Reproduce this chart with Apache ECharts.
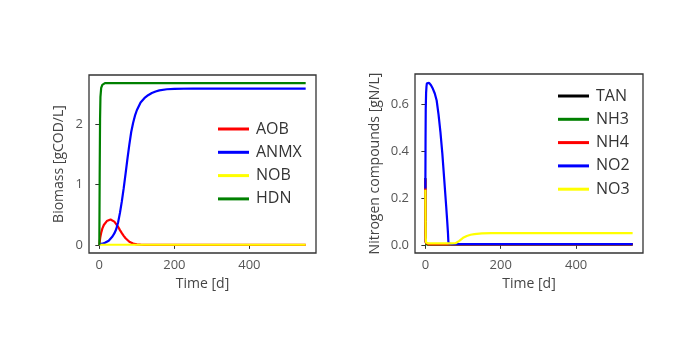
<!DOCTYPE html>
<html><head><meta charset="utf-8">
<script src="https://cdn.jsdelivr.net/npm/echarts@6/dist/echarts.min.js"></script>
<style>html,body{margin:0;padding:0;background:#fff}#c{width:700px;height:350px}</style>
</head><body><div id="c"></div>
<script>
// Left panel: biomass
const tBio = [0,1,2,3,5,8,12,15,20,25,30,35,40,45,50,55,60,65,70,75,80,85,90,95,100,110,120,130,140,150,160,180,200,250,300,400,550];
const AOB  = [0,0.05,0.1,0.14,0.2,0.27,0.33,0.36,0.395,0.415,0.42,0.41,0.385,0.345,0.3,0.245,0.195,0.15,0.11,0.078,0.053,0.035,0.022,0.014,0.009,0.004,0.002,0.001,0,0,0,0,0,0,0,0,0];
const ANMX = [0.01,0.01,0.01,0.012,0.015,0.02,0.028,0.035,0.05,0.07,0.1,0.14,0.19,0.26,0.37,0.53,0.72,0.94,1.18,1.43,1.66,1.87,2.02,2.14,2.23,2.36,2.43,2.48,2.515,2.54,2.56,2.578,2.585,2.59,2.59,2.59,2.59];
const NOB  = [0.003,0.003,0.003,0.003,0.003,0.003,0.003,0.003,0.003,0.003,0.003,0.003,0.003,0.003,0.003,0.003,0.003,0.003,0.003,0.003,0.003,0.003,0.003,0.003,0.003,0.003,0.003,0.003,0.003,0.003,0.003,0.003,0.003,0.003,0.003,0.003,0.003];
const HDN  = [0,1.2,2.1,2.45,2.6,2.65,2.67,2.68,2.68,2.68,2.68,2.68,2.68,2.68,2.68,2.68,2.68,2.68,2.68,2.68,2.68,2.68,2.68,2.68,2.68,2.68,2.68,2.68,2.68,2.68,2.68,2.68,2.68,2.68,2.68,2.68,2.68];
// Right panel: nitrogen compounds
const tN  = [0,0.5,1,2,3,4,6,8,10,15,20,25,30,35,40,45,50,55,58,60,61,62,65,70,80,85,90,95,100,110,120,130,150,175,200,300,400,550];
const TAN = [0.285,0.055,0.012,0.005,0.004,0.004,0.003,0.003,0.003,0.003,0.003,0.003,0.003,0.003,0.003,0.003,0.003,0.003,0.003,0.003,0.003,0.003,0.003,0.003,0.003,0.003,0.003,0.003,0.003,0.003,0.003,0.003,0.003,0.003,0.003,0.003,0.003,0.003];
const NH3 = [0.005,0.003,0.002,0.001,0.001,0.001,0.001,0.001,0.001,0.001,0.001,0.001,0.001,0.001,0.001,0.001,0.001,0.001,0.001,0.001,0.001,0.001,0.001,0.001,0.001,0.001,0.001,0.001,0.001,0.001,0.001,0.001,0.001,0.001,0.001,0.001,0.001,0.001];
const NH4 = [0.28,0.05,0.01,0.003,0.002,0.002,0.002,0.002,0.002,0.002,0.002,0.002,0.002,0.002,0.002,0.002,0.002,0.002,0.002,0.002,0.002,0.002,0.002,0.002,0.002,0.002,0.002,0.002,0.002,0.002,0.002,0.002,0.002,0.002,0.002,0.002,0.002,0.002];
const NO2 = [0.24,0.45,0.58,0.65,0.675,0.688,0.693,0.693,0.69,0.68,0.665,0.645,0.615,0.555,0.48,0.39,0.28,0.17,0.1,0.05,0.015,0.006,0.004,0.003,0.003,0.003,0.003,0.003,0.003,0.003,0.003,0.003,0.003,0.003,0.003,0.003,0.003,0.003];
const NO3 = [0.235,0.1,0.03,0.01,0.006,0.006,0.006,0.006,0.006,0.006,0.006,0.006,0.006,0.006,0.006,0.006,0.006,0.006,0.006,0.006,0.006,0.006,0.006,0.006,0.007,0.011,0.017,0.024,0.03,0.038,0.043,0.046,0.049,0.05,0.05,0.05,0.05,0.05];
const xTicks = [0,200,400];
const yTicksBio = [0,1,2];
const yTicksN = [0,0.2,0.4,0.6];

const FONT = 'Open Sans';
const pair = (t, v) => t.map((x, i) => [x, v[i]]);

function xAxis(gi){
  return {type:'value', gridIndex:gi, min:-27.5, max:577.5,
    name:'Time [d]', nameLocation:'middle', nameGap:22,
    nameTextStyle:{fontFamily:FONT,fontSize:14,color:'#444'},
    axisLine:{show:false}, splitLine:{show:false},
    axisTick:{show:true, length:4, lineStyle:{color:'#333'}, customValues:xTicks},
    axisLabel:{fontFamily:FONT,fontSize:13,color:'#555',margin:6,customValues:xTicks}};
}
function yAxis(gi, min, max, ticks, name, gap, fmt){
  return {type:'value', gridIndex:gi, min:min, max:max,
    name:name, nameLocation:'middle', nameGap:gap,
    nameTextStyle:{fontFamily:FONT,fontSize:14,color:'#444'},
    axisLine:{show:false}, splitLine:{show:false},
    axisTick:{show:true, length:4, lineStyle:{color:'#333'}, customValues:ticks},
    axisLabel:{fontFamily:FONT,fontSize:13,color:'#555',margin:6,customValues:ticks,formatter:fmt}};
}
function line(name, color, gi, t, v){
  return {name:name, type:'line', xAxisIndex:gi, yAxisIndex:gi, data:pair(t,v),
    showSymbol:false, color:color, lineStyle:{width:2.2,color:color}, animation:false, silent:true};
}
const legendBase = {orient:'vertical', icon:'rect', itemWidth:31, itemHeight:3, itemGap:5.3,
  textStyle:{fontFamily:FONT,fontSize:16,color:'#333',lineHeight:18,padding:[0,0,0,2]}, selectedMode:false};

const chart = echarts.init(document.getElementById('c'), null, {renderer:'canvas'});
chart.setOption({
  animation:false,
  backgroundColor:'#fff',
  grid:[
    {left:89, top:75, width:227, height:178, show:true, borderColor:'#333', borderWidth:1.3, containLabel:false},
    {left:415, top:74, width:228, height:179, show:true, borderColor:'#333', borderWidth:1.3, containLabel:false}
  ],
  xAxis:[xAxis(0), xAxis(1)],
  yAxis:[
    yAxis(0,-0.134,2.814,yTicksBio,'Biomass [gCOD/L]',23,v=>String(v)),
    yAxis(1,-0.0347,0.728,yTicksN,'Nitrogen compounds [gN/L]',33,v=>v.toFixed(1))
  ],
  legend:[
    Object.assign({}, legendBase, {left:213, top:115, data:['AOB','ANMX','NOB','HDN']}),
    Object.assign({}, legendBase, {left:553, top:82, data:['TAN','NH3','NH4','NO2','NO3']})
  ],
  series:[
    line('AOB','#ff0000',0,tBio,AOB),
    line('ANMX','#0000ff',0,tBio,ANMX),
    line('NOB','#ffff00',0,tBio,NOB),
    line('HDN','#008000',0,tBio,HDN),
    line('TAN','#000000',1,tN,TAN),
    line('NH3','#008000',1,tN,NH3),
    line('NH4','#ff0000',1,tN,NH4),
    line('NO2','#0000ff',1,tN,NO2),
    line('NO3','#ffff00',1,tN,NO3)
  ]
});
</script></body></html>
